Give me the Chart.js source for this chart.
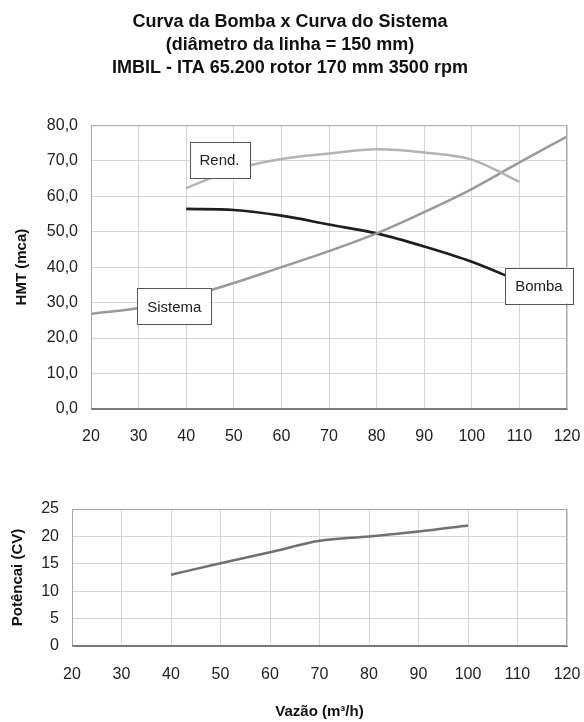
<!DOCTYPE html>
<html>
<head>
<meta charset="utf-8">
<script src="https://cdn.jsdelivr.net/npm/chart.js@4.4.0/dist/chart.umd.min.js"></script>
<style>
    body{ margin:0; background:#fff; }
    #boxGraf{ position:relative; width:584px; height:722px; }
    #boxAlt{ position:absolute; left:0; top:0; width:584px; height:450px; }
    #boxPot{ position:absolute; left:0; top:450px; width:584px; height:272px; }
</style>
</head>
<body>
<div id="boxGraf">
    <div id="boxAlt"><canvas id="grafAlt"></canvas></div>
    <div id="boxPot"><canvas id="grafPot"></canvas></div>
</div>
<script>

// dados
var vazao = [20, 30, 40, 50, 60, 70, 80, 90, 100, 110, 120]
var sistema = [26.8, 28.5, 31.5, 35.5, 40.0, 44.5, 49.5, 55.5, 62.0, 69.5, 76.8]
var bomba = [null, null, 56.4, 56.1, 54.5, 52.0, 49.5, 45.8, 41.5, 36.0, null]
var rendimento = [null, null, 62.3, 67.5, 70.5, 72.0, 73.2, 72.3, 70.3, 64.0, null]

var vazaoPot = [40, 50, 60, 70, 80, 90, 100]
var potencia = [13.0, 15.1, 17.1, 19.2, 20.0, 20.9, 22.0]

var ticksX = [20, 30, 40, 50, 60, 70, 80, 90, 100, 110, 120]

var titulo = [
    'Curva da Bomba x Curva do Sistema',
    '(diâmetro da linha = 150 mm)',
    'IMBIL - ITA 65.200 rotor 170 mm 3500 rpm'
]

var fonte = "'Liberation Sans', Arial, sans-serif"

/**
 * @description: monta pares x,y ignorando os vazios
*/
function pontos(xs, ys){
    var lista = []
    for(var i = 0; i < xs.length; i++){
        if(ys[i] !== null){
            lista.push({x: xs[i], y: ys[i]})
        }
    }
    return lista
}

/**
 * @description: desenha a moldura do grafico e as caixas de rotulo
*/
var pluginMoldura = {
    id: 'moldura',
    afterDatasetsDraw: function(chart, args, opts){
        var ctx = chart.ctx
        var a = chart.chartArea
        ctx.save()
        ctx.strokeStyle = '#a8a8a8'
        ctx.lineWidth = 1
        ctx.beginPath()
        ctx.moveTo(a.left + 0.5, a.bottom)
        ctx.lineTo(a.left + 0.5, a.top + 0.5)
        ctx.lineTo(a.right - 0.5, a.top + 0.5)
        ctx.lineTo(a.right - 0.5, a.bottom)
        ctx.stroke()
        ctx.strokeStyle = '#7a7a7a'
        ctx.beginPath()
        ctx.moveTo(a.left, a.bottom - 0.5)
        ctx.lineTo(a.right, a.bottom - 0.5)
        ctx.stroke()

        var rotulos = opts.rotulos || []
        ctx.font = '15px ' + fonte
        ctx.textAlign = 'center'
        ctx.textBaseline = 'middle'
        rotulos.forEach(function(r){
            var px = chart.scales.x.getPixelForValue(r.x)
            var py = chart.scales.y.getPixelForValue(r.y)
            var w = ctx.measureText(r.texto).width + 20
            var h = 36
            ctx.fillStyle = '#fff'
            ctx.fillRect(px - w / 2, py - h / 2, w, h)
            ctx.strokeStyle = '#555'
            ctx.strokeRect(Math.round(px - w / 2) + 0.5, Math.round(py - h / 2) + 0.5, Math.round(w), h)
            ctx.fillStyle = '#222'
            ctx.fillText(r.texto, px, py + 1)
        })
        ctx.restore()
    }
}

function eixoX(altura, pad, titulo){
    return {
        type: 'linear',
        min: 20,
        max: 120,
        afterBuildTicks: function(s){ s.ticks = ticksX.map(function(v){ return {value: v} }) },
        afterFit: function(s){
            s.height = altura
            s.paddingLeft = 0
            s.paddingRight = 0
        },
        grid: { color: '#d6d6d6', drawTicks: false },
        border: { color: '#7a7a7a' },
        ticks: { padding: pad, color: '#222', font: { family: fonte, size: 16 } },
        title: titulo
    }
}

/**
 * @description: grafico de altura manometrica
*/
function gerarAltura(){
    new Chart(document.getElementById('grafAlt').getContext('2d'), {
        type: 'line',
        data: {
            datasets: [
                { label: 'Rend.', data: pontos(vazao, rendimento), borderColor: '#b3b3b3', borderWidth: 2.5 },
                { label: 'Sistema', data: pontos(vazao, sistema), borderColor: '#9a9a9a', borderWidth: 2.5 },
                { label: 'Bomba', data: pontos(vazao, bomba), borderColor: '#1e1e1e', borderWidth: 2.7 }
            ]
        },
        options: {
            responsive: true,
            maintainAspectRatio: false,
            animation: false,
            cubicInterpolationMode: 'monotone',
            elements: { point: { radius: 0 } },
            layout: { padding: { left: 13, right: 17, top: 0, bottom: 0 } },
            plugins: {
                legend: { display: false },
                tooltip: { enabled: false },
                title: {
                    display: true,
                    text: titulo,
                    color: '#111',
                    font: { family: fonte, size: 18, weight: 'bold', lineHeight: 1.3 },
                    padding: { top: 10, bottom: 45 }
                },
                moldura: {
                    rotulos: [
                        { texto: 'Rend.', x: 47, y: 70.1 },
                        { texto: 'Sistema', x: 37.5, y: 28.9 },
                        { texto: 'Bomba', x: 114.1, y: 34.8 }
                    ]
                }
            },
            scales: {
                x: eixoX(41, 18, { display: false }),
                y: {
                    min: 0,
                    max: 80,
                    afterFit: function(s){ s.width = 78 },
                    grid: { color: '#d6d6d6', drawTicks: false },
                    border: { color: '#a8a8a8' },
                    ticks: {
                        stepSize: 10,
                        padding: 13,
                        color: '#222',
                        font: { family: fonte, size: 16 },
                        callback: function(v){ return v.toFixed(1).replace('.', ',') }
                    },
                    title: {
                        display: true,
                        text: 'HMT (mca)',
                        color: '#111',
                        padding: 0,
                        font: { family: fonte, size: 15, weight: 'bold' }
                    }
                }
            }
        },
        plugins: [pluginMoldura]
    })
}

/**
 * @description: grafico de potencia
*/
function gerarPotencia(){
    new Chart(document.getElementById('grafPot').getContext('2d'), {
        type: 'line',
        data: {
            datasets: [
                { label: 'Potência', data: pontos(vazaoPot, potencia), borderColor: '#707070', borderWidth: 2.5 }
            ]
        },
        options: {
            responsive: true,
            maintainAspectRatio: false,
            animation: false,
            cubicInterpolationMode: 'monotone',
            elements: { point: { radius: 0 } },
            layout: { padding: { left: 9, right: 17, top: 59, bottom: 0 } },
            plugins: {
                legend: { display: false },
                tooltip: { enabled: false },
                moldura: { rotulos: [] }
            },
            scales: {
                x: eixoX(76, 19, {
                    display: true,
                    text: 'Vazão (m³/h)',
                    color: '#111',
                    padding: { top: 0, bottom: 1 },
                    font: { family: fonte, size: 15, weight: 'bold' }
                }),
                y: {
                    min: 0,
                    max: 25,
                    afterFit: function(s){ s.width = 63 },
                    grid: { color: '#d6d6d6', drawTicks: false },
                    border: { color: '#a8a8a8' },
                    ticks: { stepSize: 5, padding: 13, color: '#222', font: { family: fonte, size: 16 } },
                    title: {
                        display: true,
                        text: 'Potêncai (CV)',
                        color: '#111',
                        padding: 0,
                        font: { family: fonte, size: 15, weight: 'bold' }
                    }
                }
            }
        },
        plugins: [pluginMoldura]
    })
}

try{
    gerarAltura()
    gerarPotencia()
}catch(e){}
</script>
</body>
</html>
